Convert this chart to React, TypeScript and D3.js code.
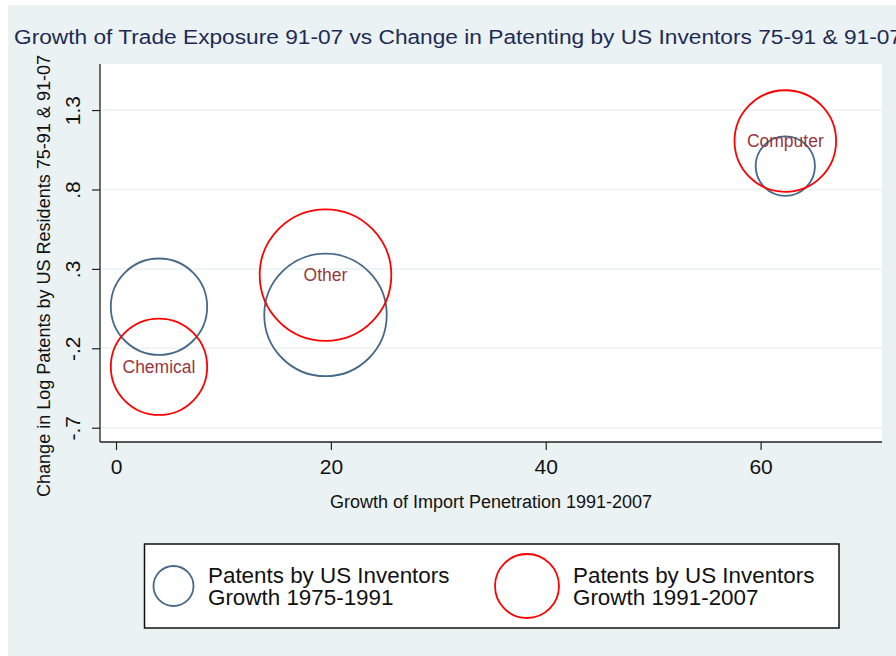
import React, { useRef, useEffect } from 'react';
import * as d3 from 'd3';

const industries = ['Chemical', 'Other', 'Computer'];
const importGrowth = [4.0, 19.5, 62.3];
const patentChange7591 = [0.062, 0.01, 0.947];
const patentChange9107 = [-0.316, 0.261, 1.105];
const patentWeight7591 = [23.2, 37.5, 8.8];
const patentWeight9107 = [23.2, 43.3, 25.8];
const xTicks = [0, 20, 40, 60];
const yTicks = [-0.7, -0.2, 0.3, 0.8, 1.3];
const legendLabels = [
  ['Patents by US Inventors', 'Growth 1975-1991'],
  ['Patents by US Inventors', 'Growth 1991-2007']
];

const W = 896;
const H = 656;
const BLUE = '#46698a';
const RED = '#ff0000';
const FONT = '"Liberation Sans", Arial, Helvetica, sans-serif';

const App = () => {
  const ref = useRef<SVGSVGElement>(null);

  useEffect(() => {
    const svg = d3.select(ref.current);
    svg.selectAll('*').remove();

    const left = 100, right = 882, top = 64, bottom = 442;
    const x = d3.scaleLinear().domain([-1.49, 71.3]).range([left, right]);
    const y = d3.scaleLinear().domain([-0.79, 1.59]).range([bottom, top]);
    const r = d3.scaleSqrt().domain([0, 43.3]).range([0, 65.8]);
    // Stata style: drop the leading zero, keep an ASCII hyphen
    const fmtY = (v: number) => v.toFixed(1).replace(/^(-?)0\./, '$1.');

    // graph region
    svg.append('rect').attr('width', W).attr('height', H).attr('fill', '#fff');
    svg.append('rect').attr('x', 8).attr('y', 5).attr('width', W - 8).attr('height', H - 5)
      .attr('fill', '#eaf2f3');

    svg.append('text')
      .attr('x', 14).attr('y', 44)
      .attr('font-family', FONT).attr('font-size', 20)
      .attr('fill', '#1e2b55')
      .attr('textLength', 888).attr('lengthAdjust', 'spacingAndGlyphs')
      .text('Growth of Trade Exposure 91-07 vs Change in Patenting by US Inventors 75-91 & 91-07');

    // plot region
    svg.append('rect').attr('x', left).attr('y', top)
      .attr('width', right - left).attr('height', bottom - top).attr('fill', '#fff');

    svg.append('g').selectAll('line').data(yTicks).enter().append('line')
      .attr('x1', left).attr('x2', right)
      .attr('y1', d => y(d)).attr('y2', d => y(d))
      .attr('stroke', '#eaf2f3').attr('stroke-width', 1.5);

    // axes
    const yAxis = svg.append('g').attr('transform', `translate(${left},0)`)
      .call(d3.axisLeft(y).tickValues(yTicks).tickSize(8).tickFormat(d => fmtY(+d)));
    yAxis.select('.domain').attr('d', `M0,${top}V${bottom}`).attr('stroke', '#222').attr('stroke-width', 1.3);
    yAxis.selectAll('.tick line').attr('stroke', '#222').attr('stroke-width', 1.2);
    yAxis.selectAll('.tick text')
      .attr('x', null).attr('dy', null)
      .attr('transform', 'translate(-20,0) rotate(-90)')
      .attr('text-anchor', 'middle')
      .attr('font-family', FONT).attr('font-size', 21).attr('fill', '#111');

    const xAxis = svg.append('g').attr('transform', `translate(0,${bottom})`)
      .call(d3.axisBottom(x).tickValues(xTicks).tickSize(8).tickFormat(d3.format('d')));
    xAxis.select('.domain').attr('d', `M${left},0H${right}`).attr('stroke', '#222').attr('stroke-width', 1.3);
    xAxis.selectAll('.tick line').attr('stroke', '#222').attr('stroke-width', 1.2);
    xAxis.selectAll('.tick text')
      .attr('y', 32).attr('dy', null)
      .attr('font-family', FONT).attr('font-size', 21).attr('fill', '#111');

    svg.append('text')
      .attr('x', 491).attr('y', 508).attr('text-anchor', 'middle')
      .attr('font-family', FONT).attr('font-size', 18).attr('fill', '#111')
      .text('Growth of Import Penetration 1991-2007');

    svg.append('text')
      .attr('transform', 'translate(50,497) rotate(-90)')
      .attr('font-family', FONT).attr('font-size', 18).attr('fill', '#111')
      .attr('textLength', 442).attr('lengthAdjust', 'spacingAndGlyphs')
      .text('Change in Log Patents by US Residents 75-91 & 91-07');

    // bubbles
    const plot = svg.append('g');
    plot.selectAll('circle.early').data(industries).enter().append('circle')
      .attr('class', 'early')
      .attr('cx', (_, i) => x(importGrowth[i]))
      .attr('cy', (_, i) => y(patentChange7591[i]))
      .attr('r', (_, i) => r(patentWeight7591[i]))
      .attr('fill', 'none').attr('stroke', BLUE).attr('stroke-width', 1.8);
    plot.selectAll('circle.late').data(industries).enter().append('circle')
      .attr('class', 'late')
      .attr('cx', (_, i) => x(importGrowth[i]))
      .attr('cy', (_, i) => y(patentChange9107[i]))
      .attr('r', (_, i) => r(patentWeight9107[i]))
      .attr('fill', 'none').attr('stroke', RED).attr('stroke-width', 1.8);
    plot.selectAll('text').data(industries).enter().append('text')
      .attr('x', (_, i) => x(importGrowth[i]))
      .attr('y', (_, i) => y(patentChange9107[i]) + 6)
      .attr('text-anchor', 'middle')
      .attr('font-family', FONT).attr('font-size', 17.5).attr('fill', '#96383e')
      .text(d => d);

    // legend
    const lg = svg.append('g');
    lg.append('rect').attr('x', 144.5).attr('y', 544).attr('width', 694.5).attr('height', 84)
      .attr('fill', '#fff').attr('stroke', '#111').attr('stroke-width', 1.5);
    const keys = [
      { cx: 173.5, rr: 20, color: BLUE, tx: 208 },
      { cx: 527, rr: 32, color: RED, tx: 573 }
    ];
    keys.forEach((k, i) => {
      lg.append('circle').attr('cx', k.cx).attr('cy', 586).attr('r', k.rr)
        .attr('fill', 'none').attr('stroke', k.color).attr('stroke-width', 1.8);
      legendLabels[i].forEach((line, j) => {
        lg.append('text').attr('x', k.tx).attr('y', 583 + j * 22)
          .attr('font-family', FONT).attr('font-size', 22.4).attr('fill', '#111')
          .text(line);
      });
    });
  }, []);

  return (
    <svg ref={ref} width={W} height={H}
      style={{ position: 'absolute', left: 0, top: 0, display: 'block' }} />
  );
};

export default App;
